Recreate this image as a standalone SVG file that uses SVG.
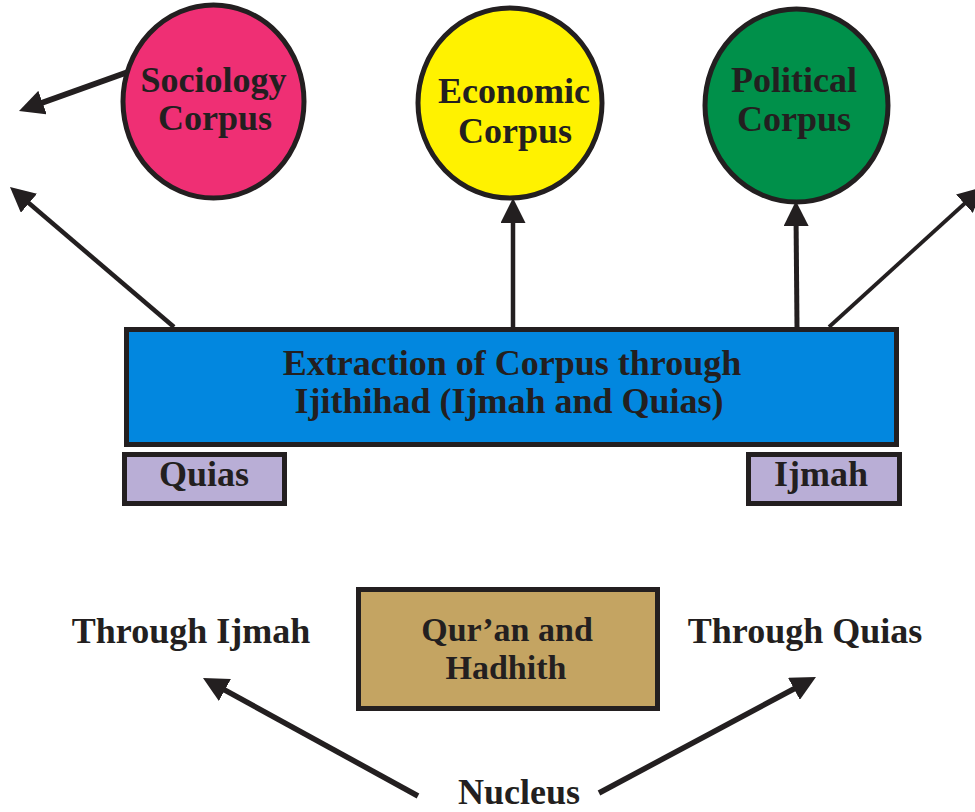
<svg xmlns="http://www.w3.org/2000/svg" width="975" height="812" viewBox="0 0 975 812">
  <style>
    .lbl { font-family: "Liberation Serif", "Times New Roman", serif; font-weight: bold; font-size: 36px; fill: #231f20; text-anchor: middle; }
    .tight { font-size: 34px; }
    .edge { stroke: #231f20; fill: none; marker-end: url(#head); }
    .ring { stroke: #231f20; stroke-width: 5; }
    .box { stroke: #231f20; stroke-width: 5; }
  </style>
  <defs>
    <marker id="head" markerUnits="userSpaceOnUse" viewBox="0 0 25 25" markerWidth="25" markerHeight="25" refX="13" refY="12.5" orient="auto">
      <path d="M0,0 L25,12.5 L0,25 z" fill="#231f20"/>
    </marker>
  </defs>
  <rect width="975" height="812" fill="#ffffff"/>

  <!-- connectors -->
  <g id="connectors">
    <line class="edge" x1="128" y1="72" x2="30.3" y2="107" stroke-width="6"/>
    <line class="edge" x1="174" y1="327" x2="19.1" y2="194.8" stroke-width="4.5"/>
    <line class="edge" x1="513" y1="327" x2="513" y2="210" stroke-width="4.5"/>
    <line class="edge" x1="797" y1="327" x2="796" y2="213" stroke-width="5"/>
    <line class="edge" x1="829" y1="327" x2="974" y2="195" stroke-width="3.8"/>
    <line class="edge" x1="418" y1="796" x2="213.5" y2="683.8" stroke-width="5.5"/>
    <line class="edge" x1="599" y1="793" x2="805.4" y2="682.7" stroke-width="5.5"/>
  </g>

  <!-- corpus circles -->
  <g id="sociology">
    <ellipse class="ring" cx="213.5" cy="101.5" rx="90.5" ry="96.5" fill="#ef2f74"/>
    <text class="lbl" x="213.5" y="92">Sociology</text>
    <text class="lbl" x="215" y="130">Corpus</text>
  </g>
  <g id="economic">
    <ellipse class="ring" cx="510" cy="103" rx="92" ry="95" fill="#fff200"/>
    <text class="lbl" x="514" y="103">Economic</text>
    <text class="lbl" x="515" y="143">Corpus</text>
  </g>
  <g id="political">
    <ellipse class="ring" cx="796.5" cy="105.5" rx="91.5" ry="96.5" fill="#00904a"/>
    <text class="lbl" x="794" y="92">Political</text>
    <text class="lbl" x="794" y="131">Corpus</text>
  </g>

  <!-- extraction block -->
  <g id="extraction">
    <rect class="box" x="126.5" y="329.5" width="770" height="115" fill="#0287df"/>
    <text class="lbl" x="512" y="375">Extraction of Corpus through</text>
    <text class="lbl" x="509" y="413">Ijithihad (Ijmah and Quias)</text>
  </g>
  <g id="quias">
    <rect class="box" x="124.5" y="454.5" width="160" height="49" fill="#b9aed6"/>
    <text class="lbl" x="204" y="486">Quias</text>
  </g>
  <g id="ijmah">
    <rect class="box" x="748.5" y="454.5" width="151" height="49" fill="#b9aed6"/>
    <text class="lbl" x="821" y="486">Ijmah</text>
  </g>

  <!-- sources -->
  <g id="quran">
    <rect class="box" x="358.5" y="589.5" width="299" height="119" fill="#c4a462"/>
    <text class="lbl tight" x="507" y="641">Qur’an and</text>
    <text class="lbl tight" x="506" y="679">Hadhith</text>
  </g>
  <g id="through-ijmah">
    <text class="lbl" x="191" y="643">Through Ijmah</text>
  </g>
  <g id="through-quias">
    <text class="lbl" x="805" y="643">Through Quias</text>
  </g>
  <g id="nucleus">
    <text class="lbl" x="519" y="804">Nucleus</text>
  </g>
</svg>
